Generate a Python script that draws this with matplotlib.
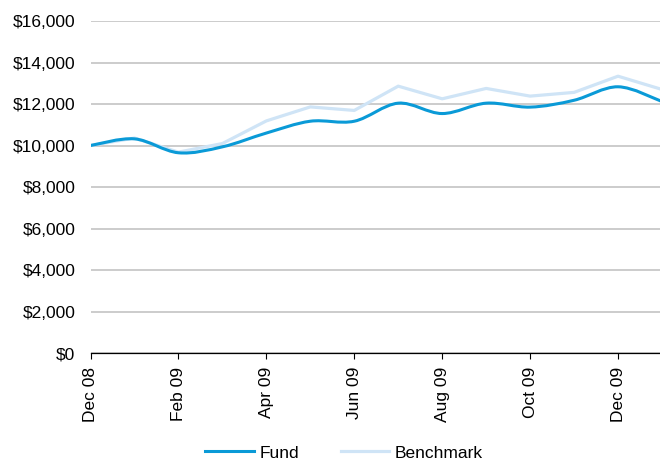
import matplotlib
matplotlib.use("Agg")
import matplotlib.pyplot as plt
from matplotlib.ticker import FuncFormatter
from matplotlib.path import Path
from matplotlib.patches import PathPatch
from matplotlib.lines import Line2D

plt.rcParams['font.family'] = ['Liberation Sans', 'DejaVu Sans']

months = ["Dec 08", "Jan 09", "Feb 09", "Mar 09", "Apr 09", "May 09", "Jun 09",
          "Jul 09", "Aug 09", "Sep 09", "Oct 09", "Nov 09", "Dec 09", "Jan 10"]
fund = [10000, 10320, 9650, 9935, 10600, 11170, 11170,
        12040, 11540, 12040, 11850, 12180, 12830, 12120]
benchmark = [10000, 10360, 9680, 10095, 11185, 11860, 11690,
             12860, 12250, 12750, 12380, 12560, 13340, 12700]
tick_labels = months[::2][:7]

FUND_C = '#0A9AD7'
BENCH_C = '#CFE4F6'

fig = plt.figure(figsize=(6.6, 4.61), dpi=100)
ax = fig.add_axes([90.5/660, 1-353/461, (662-90.5)/660, (353-21)/461])

x = list(range(len(months)))
ax.plot(x, benchmark, color=BENCH_C, lw=2.3, zorder=3)


def smooth_path(xs, ys):
    # Catmull-Rom style smoothing drawn as cubic Bezier segments (like a spreadsheet "smoothed line")
    n = len(xs)
    verts = [(xs[0], ys[0])]
    codes = [Path.MOVETO]
    for i in range(n - 1):
        x0, y0 = (xs[i - 1], ys[i - 1]) if i > 0 else (xs[i], ys[i])
        x1, y1 = xs[i], ys[i]
        x2, y2 = xs[i + 1], ys[i + 1]
        x3, y3 = (xs[i + 2], ys[i + 2]) if i + 2 < n else (xs[i + 1], ys[i + 1])
        c1 = (x1 + (x2 - x0) / 6, y1 + (y2 - y0) / 6)
        c2 = (x2 - (x3 - x1) / 6, y2 - (y3 - y1) / 6)
        verts += [c1, c2, (x2, y2)]
        codes += [Path.CURVE4] * 3
    return Path(verts, codes)


ax.add_patch(PathPatch(smooth_path(x, fund), facecolor='none', edgecolor=FUND_C,
                       lw=2.2, zorder=4, capstyle='round', joinstyle='round'))

ax.set_xlim(0, len(months) - 1)
ax.set_ylim(0, 16000)
ax.set_yticks(range(0, 16001, 2000))
ax.yaxis.set_major_formatter(FuncFormatter(lambda v, p: f"${int(v):,}"))
ax.set_xticks(x[::2][:7])
ax.set_xticklabels(tick_labels, rotation=90, fontsize=12.5)
ax.tick_params(axis='y', length=0, pad=11, labelsize=12.5)
ax.tick_params(axis='x', length=4, width=0.8, pad=6, color='black')

ax.grid(axis='y', color='#C4C4C4', lw=1.2)
ax.set_axisbelow(True)
for s in ['left', 'right', 'top']:
    ax.spines[s].set_visible(False)
ax.spines['bottom'].set_color('black')
ax.spines['bottom'].set_linewidth(0.9)
ax.spines['bottom'].set_zorder(5)

handles = [Line2D([], [], color=FUND_C, lw=2.2), Line2D([], [], color=BENCH_C, lw=2.3)]
fig.legend(handles, ['Fund', 'Benchmark'], loc='center', bbox_to_anchor=(344/660, 1-453/461),
           ncol=2, frameon=False, fontsize=12.5, handlelength=2.8,
           handletextpad=0.3, columnspacing=2.4)

fig.savefig('out.png', dpi=100)
